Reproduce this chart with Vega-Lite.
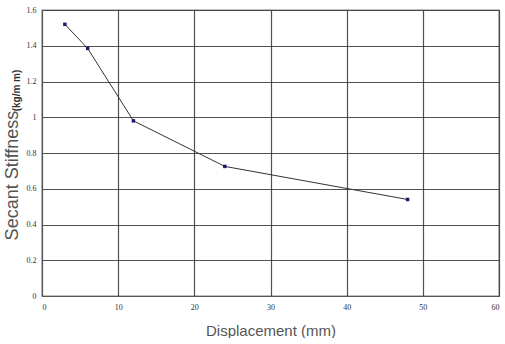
{
  "$schema": "https://vega.github.io/schema/vega-lite/v6.json",
  "width": 457,
  "height": 286,
  "padding": {"left": 3, "top": 6, "right": 5, "bottom": 0},
  "background": "white",
  "data": {"values": [
    {"disp": 3, "stiff": 1.52},
    {"disp": 6, "stiff": 1.385},
    {"disp": 12, "stiff": 0.98},
    {"disp": 24, "stiff": 0.725},
    {"disp": 48, "stiff": 0.54}
  ]},
  "config": {
    "view": {"stroke": "#aaaaaa", "strokeWidth": 1.5},
    "axis": {
      "grid": true, "gridColor": "#333333", "gridOpacity": 0.85, "gridWidth": 1.2,
      "domainColor": "#555555", "ticks": false,
      "labelFont": "Liberation Serif", "labelFontSize": 8, "labelColor": "#333333",
      "titleFont": "Liberation Sans", "titleFontWeight": "normal", "titleColor": "#555555"
    }
  },
  "layer": [
    {
      "mark": {"type": "line", "color": "#333333", "strokeWidth": 1,
               "point": {"filled": true, "shape": "square", "size": 12, "color": "#1a1a66", "opacity": 1}},
      "encoding": {
        "x": {"field": "disp", "type": "quantitative", "scale": {"domain": [0, 60], "nice": false},
              "axis": {"values": [0, 10, 20, 30, 40, 50, 60], "title": "Displacement (mm)", "titleFontSize": 15, "titlePadding": 12, "labelPadding": 7}},
        "y": {"field": "stiff", "type": "quantitative", "scale": {"domain": [0, 1.6], "nice": false},
              "axis": {"values": [0, 0.2, 0.4, 0.6, 0.8, 1, 1.2, 1.4, 1.6], "format": "~g", "title": "Secant Stiffness", "titleFontSize": 18, "titlePadding": 5, "labelPadding": 6, "titleY": 165}}
      }
    },
    {
      "mark": {"type": "point", "opacity": 0},
      "encoding": {
        "y": {"field": "stiff", "type": "quantitative", "scale": {"domain": [0, 1.6], "nice": false},
              "axis": {"orient": "left", "grid": false, "labels": false, "domain": false, "ticks": false, "title": "(kg/m m)", "titleFontSize": 10, "titleColor": "#333333", "titleX": -21, "titleY": 80, "titleFontWeight": "bold"}}
      }
    }
  ],
  "resolve": {"scale": {"y": "independent"}, "axis": {"y": "independent"}}
}
